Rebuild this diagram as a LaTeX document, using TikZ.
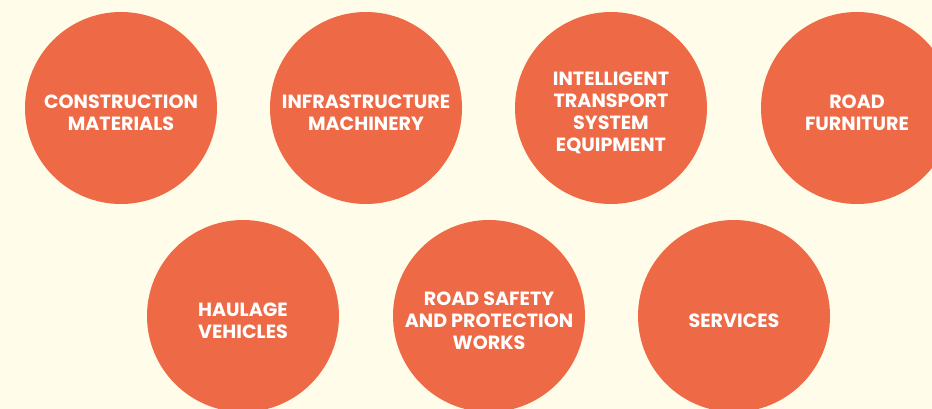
\documentclass[tikz,border=0pt]{standalone}
\usepackage{fontspec}
\setmainfont{Poppins}
\definecolor{paper}{HTML}{FFFCE9}
\definecolor{coral}{HTML}{EE6945}
\tikzset{topic/.style={circle, fill=coral, minimum size=4.8cm, inner sep=0pt},
  caption/.style={text=white, align=center, yshift=-0.125cm,
  font=\fontsize{13.6}{15.6}\selectfont\bfseries}}

\begin{document}
\begin{tikzpicture}
       \useasboundingbox (0,0) rectangle (23.3,10.225);
       \clip (0,0) rectangle (23.3,10.225);
       \fill[paper] (0,0) rectangle (23.3,10.225);

       % top row
       \node[topic, label={[caption]center:CONSTRUCTION\\MATERIALS}] (materials) at (3.025,7.525) {};
       \node[topic, label={[caption]center:INFRASTRUCTURE\\MACHINERY}] (machinery) at (9.15,7.525) {};
       \node[topic, label={[caption]center:INTELLIGENT\\TRANSPORT\\SYSTEM\\EQUIPMENT}] (its) at (15.275,7.525) {};
       \node[topic, label={[caption]center:ROAD\\FURNITURE}] (furniture) at (21.425,7.525) {};

       % bottom row
       \node[topic, label={[caption]center:HAULAGE\\VEHICLES}] (haulage) at (6.075,2.325) {};
       \node[topic, label={[caption]center:ROAD SAFETY\\AND PROTECTION\\WORKS}] (safety) at (12.225,2.325) {};
       \node[topic, label={[caption]center:SERVICES}] (services) at (18.35,2.325) {};
\end{tikzpicture}
\end{document}
